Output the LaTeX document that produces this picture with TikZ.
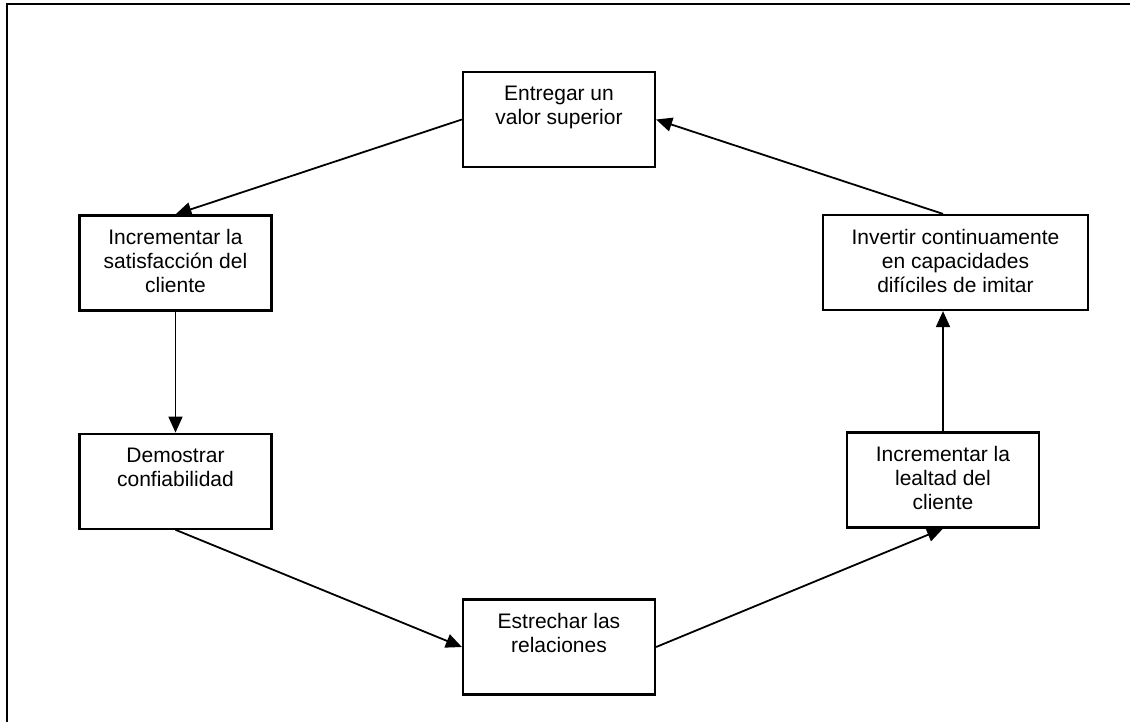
\documentclass[tikz,border=0pt]{standalone}
\usepackage{fontspec}
\setmainfont{Liberation Sans}
\usetikzlibrary{positioning,arrows.meta}

\newcommand{\caja}[2]{\parbox[c][47.5pt][t]{#1}{\centering\vspace*{7pt}#2}}

\begin{document}
\begin{tikzpicture}[
		x=1pt, y=1pt,
		font=\fontsize{10.5}{12}\selectfont,
		paso/.style={draw, line width=1.1pt, inner sep=0pt},
		flecha/.style={-{Triangle[length=8pt,width=7pt]}, line width=0.9pt}
	]
	\useasboundingbox (0,0) rectangle (565,-361);
	\draw[line width=1.3pt] (3.5,-361) -- (3.5,-2) -- (565,-2);

	\node[paso] (entregar) at (279.5,-59.75) {\caja{96pt}{Entregar un\\ valor superior}};
	\node[paso] (satisf) at (87.75,-131.5) {\caja{96pt}{Incrementar la\\ satisfacción del\\ cliente}};
	\node[paso, below=60.5pt of satisf] (demostrar) {\caja{96pt}{Demostrar\\ confiabilidad}};
	\node[paso] (estrechar) at (279.5,-323.5) {\caja{96pt}{Estrechar las\\ relaciones}};
	\node[paso] (lealtad) at (471.5,-240) {\caja{96pt}{Incrementar la\\ lealtad del\\ cliente}};
	\node[paso] (invertir) at (477.75,-131.25) {\caja{132.5pt}{Invertir continuamente\\ en capacidades\\ difíciles de imitar}};

	\draw[flecha] (entregar.west) -- (satisf.north);
	\draw[flecha] (satisf.south) -- (demostrar.north);
	\draw[flecha] (demostrar.south) -- (estrechar.west);
	\draw[flecha] (estrechar.east) -- (lealtad.south);
	\draw[flecha] (lealtad.north) -- (lealtad.north |- invertir.south);
	\draw[flecha] (lealtad.north |- invertir.north) -- (entregar.east);
\end{tikzpicture}
\end{document}
